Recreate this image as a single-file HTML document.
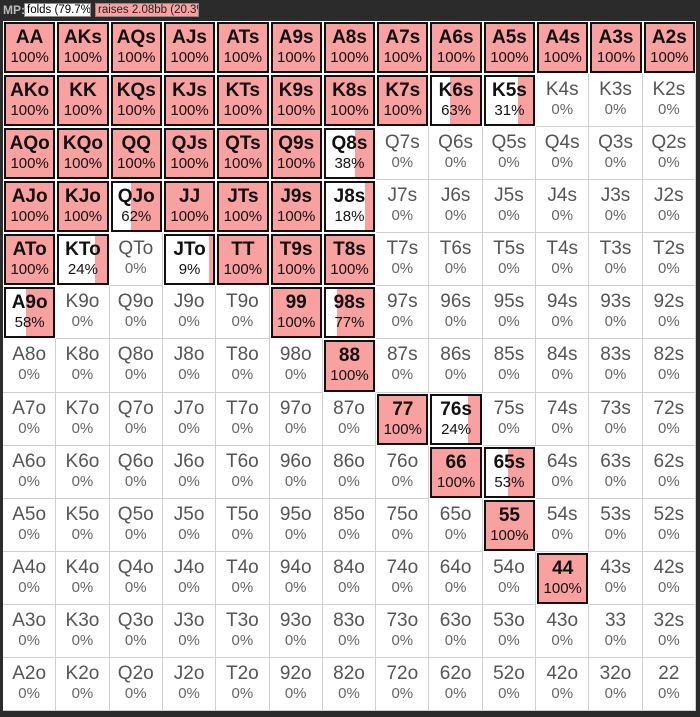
<!DOCTYPE html>
<html><head><meta charset="utf-8"><style>
body{margin:0;background:#2b2b2b;width:700px;height:717px;overflow:hidden;font-family:"Liberation Sans",Arial,sans-serif;position:relative}
#hdr{position:absolute;left:0;top:0;height:20px;width:700px}
.hl{position:absolute;top:3px;height:14px;box-sizing:border-box;font-size:11.5px;line-height:13px;padding:0 2px;border:1px solid #888;white-space:nowrap;overflow:hidden;text-align:center}
#grid{position:absolute;left:3px;top:21px;width:693px;height:690px;background:#fff}
.cell{position:absolute;box-sizing:border-box;border-right:1px solid #cfcfcf;border-bottom:1px solid #cfcfcf;text-align:center;overflow:hidden}
.act{border:2px solid #111;background:#fff}
.fill{position:absolute;top:0;right:0;bottom:0;background:#f9a0a0}
.nm{position:absolute;left:0;right:0;top:5px;font-size:19px;line-height:22px;color:#555}
.pc{position:absolute;left:0;right:0;top:27px;font-size:15px;line-height:18px;color:#666}
.act .nm{font-weight:bold;color:#111;top:3px}
.act .pc{color:#111;top:25px}
</style></head><body>
<div id="hdr">
<span style="position:absolute;left:3px;top:3px;font-size:12px;font-weight:bold;color:#bbb">MP:</span>
<span class="hl" style="left:24px;width:67px;background:#fff;color:#000">folds (79.7%)</span>
<span class="hl" style="left:95px;width:104px;background:#f9a0a0;color:#222">raises 2.08bb (20.3%)</span>
</div>
<div id="grid"></div>
<script>
const ranks=["A","K","Q","J","T","9","8","7","6","5","4","3","2"];
const freqRow0=[100,100,100,100,100,100,100,100,100,100,100,100,100];
const freqRow1=[100,100,100,100,100,100,100,100,63,31,0,0,0];
const freqRow2=[100,100,100,100,100,100,38,0,0,0,0,0,0];
const freqRow3=[100,100,62,100,100,100,18,0,0,0,0,0,0];
const freqRow4=[100,24,0,9,100,100,100,0,0,0,0,0,0];
const freqRow5=[58,0,0,0,0,100,77,0,0,0,0,0,0];
const freqRow6=[0,0,0,0,0,0,100,0,0,0,0,0,0];
const freqRow7=[0,0,0,0,0,0,0,100,24,0,0,0,0];
const freqRow8=[0,0,0,0,0,0,0,0,100,53,0,0,0];
const freqRow9=[0,0,0,0,0,0,0,0,0,100,0,0,0];
const freqRow10=[0,0,0,0,0,0,0,0,0,0,100,0,0];
const freqRow11=[0,0,0,0,0,0,0,0,0,0,0,0,0];
const freqRow12=[0,0,0,0,0,0,0,0,0,0,0,0,0];
const freqs=[freqRow0,freqRow1,freqRow2,freqRow3,freqRow4,freqRow5,freqRow6,freqRow7,freqRow8,freqRow9,freqRow10,freqRow11,freqRow12];
const g=document.getElementById('grid');
const cw=693/13,ch=690/13;
for(let r=0;r<13;r++)for(let c=0;c<13;c++){
  const f=freqs[r][c];
  let name=r===c?ranks[r]+ranks[c]:(c>r?ranks[r]+ranks[c]+"s":ranks[c]+ranks[r]+"o");
  const d=document.createElement('div');
  
  
  d.className='cell'+(f>0?' act':'');
  if(f>0){d.style.left=(c*cw+1)+'px';d.style.top=(r*ch+1)+'px';d.style.width=(cw-2)+'px';d.style.height=(ch-2)+'px';}
  else{d.style.left=(c*cw)+'px';d.style.top=(r*ch)+'px';d.style.width=cw+'px';d.style.height=ch+'px';}
  if(f>0){const fl=document.createElement('div');fl.className='fill';fl.style.width=f+'%';
    
    
    d.appendChild(fl);}
  const n=document.createElement('div');n.className='nm';n.textContent=name;
  
  
  const p=document.createElement('div');p.className='pc';p.textContent=f+'%';
  
  
  d.appendChild(n);d.appendChild(p);g.appendChild(d);
}
</script>
</body></html>
